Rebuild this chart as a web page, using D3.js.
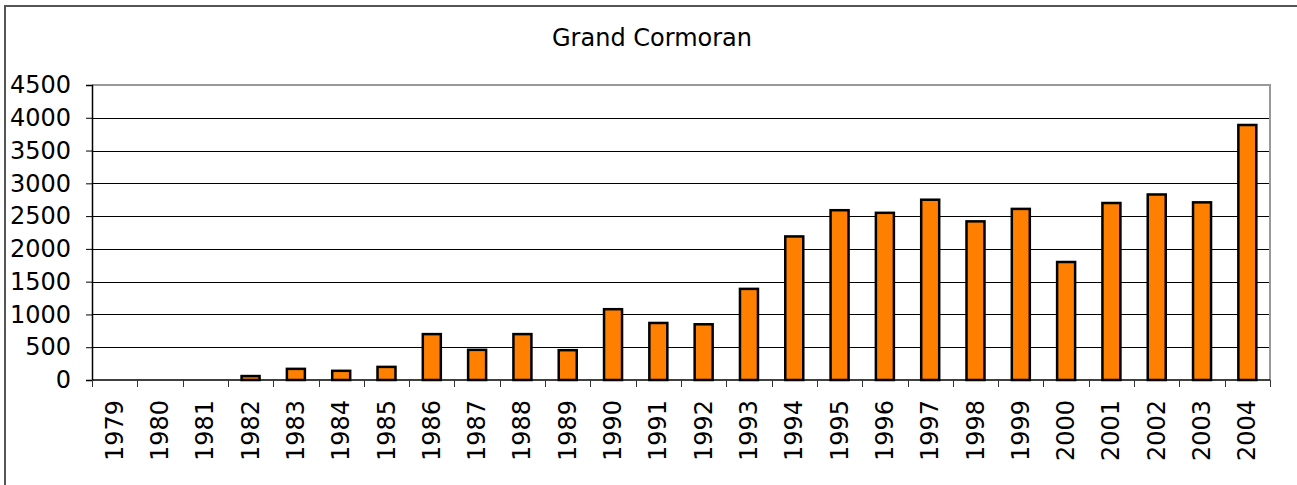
<!DOCTYPE html>
<html>
<head>
<meta charset="utf-8">
<script src="https://cdn.jsdelivr.net/npm/d3@7"></script>
<style>
  html, body { margin: 0; padding: 0; background: #fff; }
  svg { display: block; font-family: "DejaVu Sans", Verdana, sans-serif; }
</style>
</head>
<body>
<div id="chart"></div>
<script>
// Grand Cormoran counts per year
const years = ['1979','1980','1981','1982','1983','1984','1985','1986','1987','1988','1989',
  '1990','1991','1992','1993','1994','1995','1996','1997','1998','1999','2000','2001','2002','2003','2004'];
const counts = [0, 0, 0, 60, 170, 140, 200, 700, 460, 700, 455,
  1080, 870, 850, 1390, 2190, 2590, 2550, 2750, 2420, 2610, 1800, 2700, 2830, 2710, 3890];
const yTicks = [0, 500, 1000, 1500, 2000, 2500, 3000, 3500, 4000, 4500];

const W = 1297, H = 485;
const plot = { left: 92, right: 1270, top: 85, bottom: 380 };

const svg = d3.select('#chart').append('svg')
  .attr('width', W)
  .attr('height', H);

// outer chart frame (right and bottom run off the picture)
svg.append('rect')
  .attr('x', 5).attr('y', 6)
  .attr('width', 1320).attr('height', 520)
  .attr('fill', 'none')
  .attr('stroke', '#555')
  .attr('stroke-width', 2);

svg.append('text')
  .attr('x', 652)
  .attr('y', 46)
  .attr('text-anchor', 'middle')
  .attr('font-size', 24)
  .attr('fill', '#000')
  .text('Grand Cormoran');

const x = d3.scaleBand()
  .domain(years)
  .range([plot.left, plot.right])
  .padding(0);

const y = d3.scaleLinear()
  .domain([0, 4500])
  .range([plot.bottom, plot.top]);

// gridlines
svg.append('g')
  .selectAll('line')
  .data(yTicks.filter(t => t > 0 && t < 4500))
  .join('line')
  .attr('x1', plot.left).attr('x2', plot.right)
  .attr('y1', d => Math.round(y(d)) + 0.5)
  .attr('y2', d => Math.round(y(d)) + 0.5)
  .attr('stroke', '#000')
  .attr('stroke-width', 1);

// plot frame top and right (grey)
svg.append('path')
  .attr('d', `M${plot.left},${plot.top}H${plot.right}V${plot.bottom}`)
  .attr('fill', 'none')
  .attr('stroke', '#999')
  .attr('stroke-width', 2);

// bars
const barW = 18;
svg.append('g')
  .selectAll('rect')
  .data(years.map((yr, i) => ({ yr, v: counts[i] })).filter(d => d.v > 0))
  .join('rect')
  .attr('x', d => x(d.yr) + (x.bandwidth() - barW) / 2)
  .attr('y', d => y(d.v))
  .attr('width', barW)
  .attr('height', d => y(0) - y(d.v))
  .attr('fill', '#ff8000')
  .attr('stroke', '#000')
  .attr('stroke-width', 2.5);

// y axis
const yAxis = svg.append('g')
  .attr('transform', `translate(${plot.left},0)`)
  .call(d3.axisLeft(y).tickValues(yTicks).tickSize(6).tickPadding(15).tickFormat(d3.format('d')));
yAxis.select('.domain').attr('stroke', '#000').attr('stroke-width', 1.5);
yAxis.selectAll('.tick line').attr('stroke', '#000');
yAxis.selectAll('.tick text')
  .attr('font-size', 24)
  .attr('font-family', '"DejaVu Sans", Verdana, sans-serif')
  .attr('fill', '#000');

// x axis: ticks between categories
const bounds = years.map(d => x(d)).concat([plot.right]);
svg.append('line')
  .attr('x1', plot.left).attr('x2', plot.right)
  .attr('y1', plot.bottom).attr('y2', plot.bottom)
  .attr('stroke', '#000')
  .attr('stroke-width', 1.5);
svg.append('g')
  .selectAll('line')
  .data(bounds)
  .join('line')
  .attr('x1', d => Math.round(d) + 0.5).attr('x2', d => Math.round(d) + 0.5)
  .attr('y1', plot.bottom).attr('y2', plot.bottom + 7)
  .attr('stroke', '#333')
  .attr('stroke-width', 1);

svg.append('g')
  .selectAll('text')
  .data(years)
  .join('text')
  .attr('transform', d => `translate(${x(d) + x.bandwidth() / 2 + 8},400) rotate(-90)`)
  .attr('text-anchor', 'end')
  .attr('font-size', 24)
  .attr('fill', '#000')
  .text(d => d);
</script>
</body>
</html>
